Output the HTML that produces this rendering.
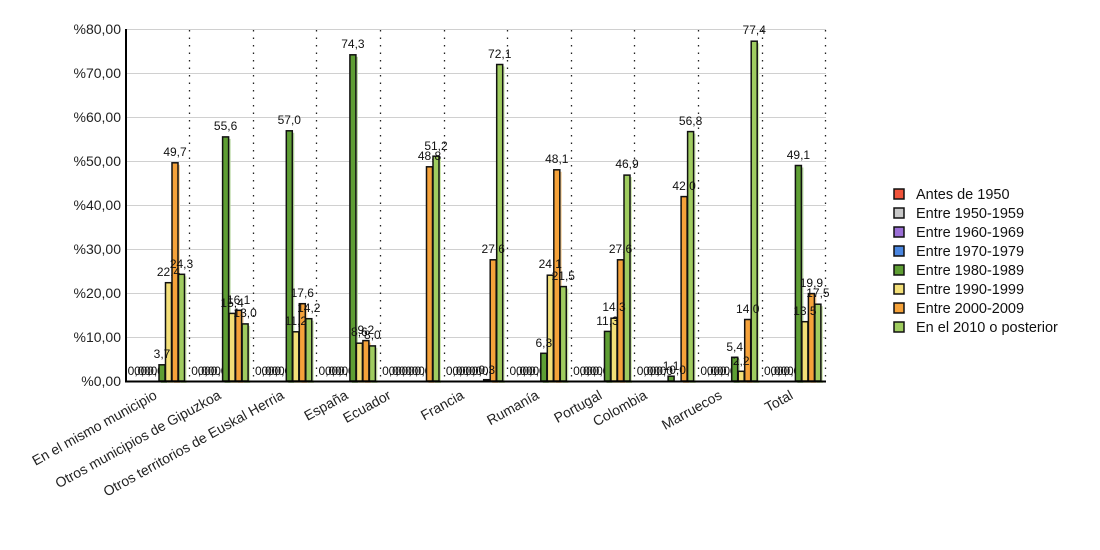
<!DOCTYPE html>
<html><head><meta charset="utf-8"><style>
html,body{margin:0;padding:0;background:#fff;}
svg{display:block;font-family:"Liberation Sans",sans-serif;}
.g{stroke:#d0d0d0;stroke-width:1}
.d{stroke:#222;stroke-width:1.3;stroke-dasharray:1.5 6}
.yl{font-size:14px;text-anchor:end;fill:#222}
.v{font-size:12px;text-anchor:middle;fill:#111}
.z{font-size:12px;text-anchor:middle;fill:#111}
.xl{font-size:14px;text-anchor:end;fill:#222}
.lg{font-size:14.5px;fill:#111}
rect.b{stroke:#111;stroke-width:1.5}
.c4{fill:#5e9e33}.c5{fill:#f3df78}.c6{fill:#f5a23a}.c7{fill:#9fcc5f}
.s4{fill:#b5d69c}.s5{fill:#f6eec0}.s6{fill:#f7d2a0}.s7{fill:#d0e8b0}
</style></head><body>
<svg width="1100" height="550" viewBox="0 0 1100 550">
<line class="g" x1="126" x2="826" y1="29.5" y2="29.5"/>
<line class="g" x1="126" x2="826" y1="73.5" y2="73.5"/>
<line class="g" x1="126" x2="826" y1="117.5" y2="117.5"/>
<line class="g" x1="126" x2="826" y1="161.5" y2="161.5"/>
<line class="g" x1="126" x2="826" y1="205.5" y2="205.5"/>
<line class="g" x1="126" x2="826" y1="249.5" y2="249.5"/>
<line class="g" x1="126" x2="826" y1="293.5" y2="293.5"/>
<line class="g" x1="126" x2="826" y1="337.5" y2="337.5"/>
<line class="d" x1="189.5" x2="189.5" y1="30" y2="380"/>
<line class="d" x1="253.5" x2="253.5" y1="30" y2="380"/>
<line class="d" x1="316.5" x2="316.5" y1="30" y2="380"/>
<line class="d" x1="380.5" x2="380.5" y1="30" y2="380"/>
<line class="d" x1="444.5" x2="444.5" y1="30" y2="380"/>
<line class="d" x1="507.5" x2="507.5" y1="30" y2="380"/>
<line class="d" x1="571.5" x2="571.5" y1="30" y2="380"/>
<line class="d" x1="634.5" x2="634.5" y1="30" y2="380"/>
<line class="d" x1="698.5" x2="698.5" y1="30" y2="380"/>
<line class="d" x1="762.5" x2="762.5" y1="30" y2="380"/>
<line class="d" x1="825.5" x2="825.5" y1="30" y2="380"/>
<text class="yl" x="121" y="34">%80,00</text>
<text class="yl" x="121" y="78">%70,00</text>
<text class="yl" x="121" y="122">%60,00</text>
<text class="yl" x="121" y="166">%50,00</text>
<text class="yl" x="121" y="210">%40,00</text>
<text class="yl" x="121" y="254">%30,00</text>
<text class="yl" x="121" y="298">%20,00</text>
<text class="yl" x="121" y="342">%10,00</text>
<text class="yl" x="121" y="386">%0,00</text>

<g class="z">
<text x="136" y="375">0,0</text><text x="142.5" y="375">0,0</text><text x="149" y="375">0,0</text><text x="155.5" y="375">0,0</text>
<text x="199.6" y="375">0,0</text><text x="206.1" y="375">0,0</text><text x="212.6" y="375">0,0</text><text x="219.1" y="375">0,0</text>
<text x="263.3" y="375">0,0</text><text x="269.8" y="375">0,0</text><text x="276.3" y="375">0,0</text><text x="282.8" y="375">0,0</text>
<text x="326.9" y="375">0,0</text><text x="333.4" y="375">0,0</text><text x="339.9" y="375">0,0</text><text x="346.4" y="375">0,0</text>
<text x="390.5" y="375">0,0</text><text x="397" y="375">0,0</text><text x="403.5" y="375">0,0</text><text x="410" y="375">0,0</text><text x="416.5" y="375">0,0</text><text x="423" y="375">0,0</text>
<text x="454.2" y="375">0,0</text><text x="460.7" y="375">0,0</text><text x="467.2" y="375">0,0</text><text x="473.7" y="375">0,0</text><text x="480.2" y="375">0,0</text>
<text x="517.8" y="375">0,0</text><text x="524.3" y="375">0,0</text><text x="530.8" y="375">0,0</text><text x="537.3" y="375">0,0</text>
<text x="581.5" y="375">0,0</text><text x="588" y="375">0,0</text><text x="594.5" y="375">0,0</text><text x="601" y="375">0,0</text>
<text x="645.1" y="375">0,0</text><text x="651.6" y="375">0,0</text><text x="658.1" y="375">0,0</text><text x="664.6" y="375">0,0</text>
<text x="708.7" y="375">0,0</text><text x="715.2" y="375">0,0</text><text x="721.7" y="375">0,0</text><text x="728.2" y="375">0,0</text>
<text x="772.4" y="375">0,0</text><text x="778.9" y="375">0,0</text><text x="785.4" y="375">0,0</text><text x="791.9" y="375">0,0</text>
</g>

<rect class="s4" x="161" y="366.7" width="6" height="16.3"/><rect class="b c4" x="159" y="364.8" width="6" height="16.2"/>
<rect class="s5" x="167.5" y="284.7" width="6" height="98.3"/><rect class="b c5" x="165.5" y="282.7" width="6" height="98.3"/>
<rect class="s6" x="174" y="164.8" width="6" height="218.2"/><rect class="b c6" x="172" y="162.8" width="6" height="218.2"/>
<rect class="s7" x="180.5" y="276.3" width="6" height="106.7"/><rect class="b c7" x="178.5" y="274.3" width="6" height="106.7"/>
<rect class="s4" x="224.6" y="138.9" width="6" height="244.1"/><rect class="b c4" x="222.6" y="136.9" width="6" height="244.1"/>
<rect class="s5" x="231.1" y="315.4" width="6" height="67.6"/><rect class="b c5" x="229.1" y="313.4" width="6" height="67.6"/>
<rect class="s6" x="237.6" y="312.3" width="6" height="70.7"/><rect class="b c6" x="235.6" y="310.3" width="6" height="70.7"/>
<rect class="s7" x="244.1" y="325.9" width="6" height="57.1"/><rect class="b c7" x="242.1" y="323.9" width="6" height="57.1"/>
<rect class="s4" x="288.3" y="132.8" width="6" height="250.2"/><rect class="b c4" x="286.3" y="130.8" width="6" height="250.2"/>
<rect class="s5" x="294.8" y="333.8" width="6" height="49.2"/><rect class="b c5" x="292.8" y="331.8" width="6" height="49.2"/>
<rect class="s6" x="301.3" y="305.7" width="6" height="77.3"/><rect class="b c6" x="299.3" y="303.7" width="6" height="77.3"/>
<rect class="s7" x="307.8" y="320.7" width="6" height="62.3"/><rect class="b c7" x="305.8" y="318.7" width="6" height="62.3"/>
<rect class="s4" x="351.9" y="56.8" width="6" height="326.2"/><rect class="b c4" x="349.9" y="54.8" width="6" height="326.2"/>
<rect class="s5" x="358.4" y="345.2" width="6" height="37.8"/><rect class="b c5" x="356.4" y="343.2" width="6" height="37.8"/>
<rect class="s6" x="364.9" y="342.6" width="6" height="40.4"/><rect class="b c6" x="362.9" y="340.6" width="6" height="40.4"/>
<rect class="s7" x="371.4" y="347.9" width="6" height="35.1"/><rect class="b c7" x="369.4" y="345.9" width="6" height="35.1"/>
<rect class="s6" x="428.5" y="168.8" width="6" height="214.2"/><rect class="b c6" x="426.5" y="166.8" width="6" height="214.2"/>
<rect class="s7" x="435" y="158.2" width="6" height="224.8"/><rect class="b c7" x="433" y="156.2" width="6" height="224.8"/>
<rect class="b c5" x="483.7" y="379.7" width="6" height="1.3"/>
<rect class="s6" x="492.2" y="261.8" width="6" height="121.2"/><rect class="b c6" x="490.2" y="259.8" width="6" height="121.2"/>
<rect class="s7" x="498.7" y="66.5" width="6" height="316.5"/><rect class="b c7" x="496.7" y="64.5" width="6" height="316.5"/>
<rect class="s4" x="542.8" y="355.3" width="6" height="27.7"/><rect class="b c4" x="540.8" y="353.3" width="6" height="27.7"/>
<rect class="s5" x="549.3" y="277.2" width="6" height="105.8"/><rect class="b c5" x="547.3" y="275.2" width="6" height="105.8"/>
<rect class="s6" x="555.8" y="171.8" width="6" height="211.2"/><rect class="b c6" x="553.8" y="169.8" width="6" height="211.2"/>
<rect class="s7" x="562.3" y="288.6" width="6" height="94.4"/><rect class="b c7" x="560.3" y="286.6" width="6" height="94.4"/>
<rect class="s4" x="606.5" y="333.4" width="6" height="49.6"/><rect class="b c4" x="604.5" y="331.4" width="6" height="49.6"/>
<rect class="s5" x="613" y="320.2" width="6" height="62.8"/><rect class="b c5" x="611" y="318.2" width="6" height="62.8"/>
<rect class="s6" x="619.5" y="261.8" width="6" height="121.2"/><rect class="b c6" x="617.5" y="259.8" width="6" height="121.2"/>
<rect class="s7" x="626" y="177.1" width="6" height="205.9"/><rect class="b c7" x="624" y="175.1" width="6" height="205.9"/>
<rect class="b c4" x="668.1" y="376.2" width="6" height="4.8"/>
<rect class="s6" x="683.1" y="198.6" width="6" height="184.4"/><rect class="b c6" x="681.1" y="196.6" width="6" height="184.4"/>
<rect class="s7" x="689.6" y="133.6" width="6" height="249.4"/><rect class="b c7" x="687.6" y="131.6" width="6" height="249.4"/>
<rect class="s4" x="733.7" y="359.3" width="6" height="23.7"/><rect class="b c4" x="731.7" y="357.3" width="6" height="23.7"/>
<rect class="s5" x="740.2" y="373.3" width="6" height="9.7"/><rect class="b c5" x="738.2" y="371.3" width="6" height="9.7"/>
<rect class="s6" x="746.7" y="321.5" width="6" height="61.5"/><rect class="b c6" x="744.7" y="319.5" width="6" height="61.5"/>
<rect class="s7" x="753.2" y="43.2" width="6" height="339.8"/><rect class="b c7" x="751.2" y="41.2" width="6" height="339.8"/>
<rect class="s4" x="797.4" y="167.5" width="6" height="215.5"/><rect class="b c4" x="795.4" y="165.5" width="6" height="215.5"/>
<rect class="s5" x="803.9" y="323.7" width="6" height="59.3"/><rect class="b c5" x="801.9" y="321.7" width="6" height="59.3"/>
<rect class="s6" x="810.4" y="295.6" width="6" height="87.4"/><rect class="b c6" x="808.4" y="293.6" width="6" height="87.4"/>
<rect class="s7" x="816.9" y="306.2" width="6" height="76.8"/><rect class="b c7" x="814.9" y="304.2" width="6" height="76.8"/>

<g class="v">
<text x="162" y="358">3,7</text><text x="168.5" y="276">22,4</text><text x="175" y="156">49,7</text><text x="181.5" y="268">24,3</text>
<text x="225.6" y="130">55,6</text><text x="232.1" y="307">15,4</text><text x="238.6" y="304">16,1</text><text x="245.1" y="317">13,0</text>
<text x="289.3" y="124">57,0</text><text x="295.8" y="325">11,2</text><text x="302.3" y="297">17,6</text><text x="308.8" y="312">14,2</text>
<text x="352.9" y="48">74,3</text><text x="359.4" y="336">8,6</text><text x="365.9" y="334">9,2</text><text x="372.4" y="339">8,0</text>
<text x="429.5" y="160">48,8</text><text x="436" y="150">51,2</text>
<text x="486.7" y="374">0,3</text><text x="493.2" y="253">27,6</text><text x="499.7" y="58">72,1</text>
<text x="543.8" y="347">6,3</text><text x="550.3" y="268">24,1</text><text x="556.8" y="163">48,1</text><text x="563.3" y="280">21,5</text>
<text x="607.5" y="325">11,3</text><text x="614" y="311">14,3</text><text x="620.5" y="253">27,6</text><text x="627" y="168">46,9</text>
<text x="671.1" y="370">1,1</text><text x="677.6" y="374">0,0</text><text x="684.1" y="190">42,0</text><text x="690.6" y="125">56,8</text>
<text x="734.7" y="351">5,4</text><text x="741.2" y="365">2,2</text><text x="747.7" y="313">14,0</text><text x="754.2" y="34">77,4</text>
<text x="798.4" y="159">49,1</text><text x="804.9" y="315">13,5</text><text x="811.4" y="287">19,9</text><text x="817.9" y="297">17,5</text>
</g>

<line x1="126" x2="126" y1="29" y2="382" stroke="#000" stroke-width="2"/>
<line x1="125" x2="826" y1="381.5" y2="381.5" stroke="#000" stroke-width="2"/>

<g class="xl">
<text transform="translate(158,398) rotate(-29)">En el mismo municipio</text>
<text transform="translate(222,398) rotate(-29)">Otros municipios de Gipuzkoa</text>
<text transform="translate(285,398) rotate(-29)">Otros territorios de Euskal Herria</text>
<text transform="translate(349,398) rotate(-29)">España</text>
<text transform="translate(392,398) rotate(-29)">Ecuador</text>
<text transform="translate(465,398) rotate(-29)">Francia</text>
<text transform="translate(540,398) rotate(-29)">Rumanía</text>
<text transform="translate(603,398) rotate(-29)">Portugal</text>
<text transform="translate(648,398) rotate(-29)">Colombia</text>
<text transform="translate(723,398) rotate(-29)">Marruecos</text>
<text transform="translate(794,398) rotate(-29)">Total</text>
</g>

<g>
<rect x="894" y="189" width="10" height="10" fill="#f0533a" stroke="#111" stroke-width="1.5"/>
<rect x="894" y="208" width="10" height="10" fill="#c8c8c8" stroke="#111" stroke-width="1.5"/>
<rect x="894" y="227" width="10" height="10" fill="#9b6fd6" stroke="#111" stroke-width="1.5"/>
<rect x="894" y="246" width="10" height="10" fill="#4a86e0" stroke="#111" stroke-width="1.5"/>
<rect x="894" y="265" width="10" height="10" fill="#5e9e33" stroke="#111" stroke-width="1.5"/>
<rect x="894" y="284" width="10" height="10" fill="#f3df78" stroke="#111" stroke-width="1.5"/>
<rect x="894" y="303" width="10" height="10" fill="#f5a23a" stroke="#111" stroke-width="1.5"/>
<rect x="894" y="322" width="10" height="10" fill="#9fcc5f" stroke="#111" stroke-width="1.5"/>
<text class="lg" x="916" y="199">Antes de 1950</text>
<text class="lg" x="916" y="218">Entre 1950-1959</text>
<text class="lg" x="916" y="237">Entre 1960-1969</text>
<text class="lg" x="916" y="256">Entre 1970-1979</text>
<text class="lg" x="916" y="275">Entre 1980-1989</text>
<text class="lg" x="916" y="294">Entre 1990-1999</text>
<text class="lg" x="916" y="313">Entre 2000-2009</text>
<text class="lg" x="916" y="332">En el 2010 o posterior</text>
</g>
</svg>
</body></html>
